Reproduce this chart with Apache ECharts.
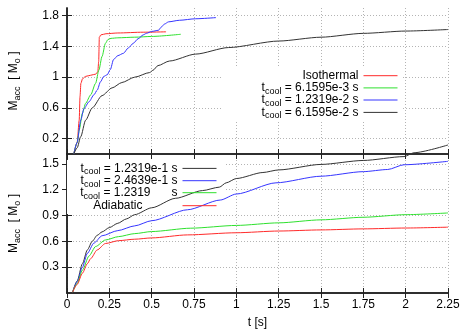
<!DOCTYPE html>
<html>
<head>
<meta charset="utf-8">
<script src="https://cdn.jsdelivr.net/npm/echarts@6/dist/echarts.min.js"></script>
<style>
  html, body { margin: 0; padding: 0; background: #fff; }
  #chart { width: 471px; height: 330px; }
</style>
</head>
<body>
<div id="chart"></div>
<script>
// ---- top panel (cooling times 6e-3 .. 6e-2) ----
const tIso = [0.04, 0.06, 0.072, 0.077, 0.082, 0.092, 0.11, 0.14, 0.17, 0.182, 0.187, 0.191, 0.2, 0.23, 0.3, 0.45, 0.585]
const mIso = [0, 0.15, 0.44, 0.75, 0.92, 0.98, 1.01, 1.025, 1.04, 1.07, 1.2, 1.52, 1.55, 1.565, 1.575, 1.585, 1.59]

const tC1 = [0.04, 0.06, 0.072, 0.091, 0.11, 0.14, 0.169, 0.188, 0.207, 0.227, 0.242, 0.26, 0.3, 0.4, 0.5, 0.672]
const mC1 = [0, 0.15, 0.31, 0.53, 0.66, 0.77, 0.92, 1.09, 1.27, 1.44, 1.49, 1.505, 1.512, 1.52, 1.53, 1.558]

const tC2 = [0.04, 0.06, 0.081, 0.1, 0.13, 0.159, 0.178, 0.198, 0.217, 0.237, 0.256, 0.275, 0.3, 0.333, 0.362, 0.391, 0.42, 0.45, 0.469, 0.5, 0.54, 0.556, 0.575, 0.6, 0.663, 0.76, 0.88]
const mC2 = [0, 0.15, 0.44, 0.59, 0.68, 0.77, 0.83, 0.94, 1.01, 1.03, 1.1, 1.23, 1.28, 1.31, 1.38, 1.44, 1.5, 1.55, 1.57, 1.595, 1.61, 1.65, 1.69, 1.72, 1.74, 1.76, 1.775]

const tC3 = [0.04, 0.06, 0.081, 0.11, 0.149, 0.207, 0.266, 0.324, 0.4, 0.488, 0.508, 0.537, 0.605, 0.76, 0.953, 1.25, 1.5, 1.75, 2.0, 2.25]
const mC3 = [0, 0.08, 0.225, 0.44, 0.6, 0.76, 0.86, 0.93, 1.0, 1.06, 1.09, 1.15, 1.21, 1.30, 1.385, 1.47, 1.52, 1.57, 1.60, 1.62]

// ---- bottom panel (cooling times 1.2e-1 .. adiabatic) ----
const tC4 = [0.033, 0.06, 0.091, 0.12, 0.149, 0.178, 0.207, 0.25, 0.3, 0.35, 0.4, 0.5, 0.64, 0.8, 0.9, 0.94, 1.0, 1.157, 1.25, 1.5, 1.75, 1.99, 2.05, 2.25]
const mC4 = [0.01, 0.14, 0.34, 0.5, 0.6, 0.67, 0.71, 0.76, 0.81, 0.86, 0.91, 0.99, 1.1, 1.19, 1.23, 1.28, 1.33, 1.40, 1.43, 1.494, 1.54, 1.585, 1.63, 1.72]

const tC5 = [0.033, 0.06, 0.091, 0.12, 0.159, 0.207, 0.3, 0.4, 0.5, 0.711, 0.905, 1.0, 1.234, 1.5, 1.75, 1.894, 1.99, 2.25]
const mC5 = [0.01, 0.13, 0.30, 0.46, 0.58, 0.665, 0.725, 0.78, 0.84, 0.967, 1.08, 1.15, 1.28, 1.357, 1.41, 1.435, 1.49, 1.53]

const tC6 = [0.033, 0.06, 0.091, 0.13, 0.169, 0.227, 0.304, 0.4, 0.5, 0.731, 1.0, 1.25, 1.5, 1.75, 2.0, 2.25]
const mC6 = [0.01, 0.11, 0.265, 0.43, 0.54, 0.616, 0.655, 0.69, 0.714, 0.753, 0.785, 0.815, 0.85, 0.88, 0.91, 0.93]

const tAd = [0.033, 0.06, 0.091, 0.12, 0.14, 0.178, 0.227, 0.304, 0.4, 0.5, 0.711, 1.0, 1.25, 1.5, 1.75, 2.0, 2.25]
const mAd = [0.01, 0.1, 0.23, 0.34, 0.40, 0.5, 0.575, 0.608, 0.625, 0.64, 0.675, 0.70, 0.72, 0.733, 0.745, 0.755, 0.765]

const yTicksTop = [0.2, 0.6, 1, 1.4, 1.8]
const yTicksBottom = [0.3, 0.6, 0.9, 1.2, 1.5]

const topNames = ['Isothermal', 'tcool = 6.1595e-3 s', 'tcool = 1.2319e-2 s', 'tcool = 6.1595e-2 s']
const bottomNames = ['tcool = 1.2319e-1 s', 'tcool = 2.4639e-1 s', 'tcool = 1.2319 s', 'Adiabatic']

const FONT = '"Liberation Sans", Arial, sans-serif'

function zip(t, m) {
  return t.map((x, i) => [x, m[i]])
}

// legend text: t with "cool" as subscript
function legendText(name) {
  if (name === 'Adiabatic') return '{ad|Adiabatic}'
  if (name === 'tcool = 1.2319 s') return '{m|t}{s|cool}{m| = 1.2319}{gs|s}'
  if (name.indexOf('tcool') === 0) return '{m|t}{s|cool}{m|' + name.slice(5) + '}'
  return '{m|' + name + '}'
}

const rich = {
  m: { fontSize: 12, lineHeight: 16, color: '#000', fontFamily: FONT },
  s: { fontSize: 9, lineHeight: 8, verticalAlign: 'bottom', color: '#000', fontFamily: FONT },
  gs: { fontSize: 12, lineHeight: 16, padding: [0, 0, 0, 21], color: '#000', fontFamily: FONT },
  ad: { fontSize: 12, lineHeight: 16, padding: [0, 35, 0, 0], color: '#000', fontFamily: FONT }
}

function oneLegend(name, right, top) {
  return {
    data: [name],
    orient: 'vertical',
    right: right,
    top: top,
    padding: 0,
    itemWidth: 34,
    itemHeight: 16,
    align: 'right',
    selectedMode: false,
    // only the line sample, no symbol in the middle
    itemStyle: { color: 'rgba(0,0,0,0)', borderWidth: 0, opacity: 0 },
    lineStyle: { width: 1 },
    formatter: legendText,
    textStyle: { fontSize: 12, color: '#000', fontFamily: FONT, rich: rich }
  }
}

const legendTops1 = [69.3, 81.5, 93.6, 106]
const legendTops2 = [162, 174.3, 186.3, 199.3]

const axisLineStyle = { color: '#222', width: 1.5 }
const gridLine = { show: true, lineStyle: { color: '#b4b4b4', width: 1, type: [1, 2] } }

function xAxisFor(gridIndex, position, showLabels, isMirror) {
  return {
    type: 'value',
    gridIndex: gridIndex,
    position: position,
    min: 0,
    max: 2.25,
    interval: 0.25,
    axisLine: { lineStyle: axisLineStyle },
    axisTick: { inside: true, length: 5, lineStyle: { color: '#222' } },
    axisLabel: { show: showLabels, margin: 6, fontSize: 12, color: '#000', fontFamily: FONT },
    splitLine: isMirror ? { show: false } : gridLine,
    name: showLabels ? 't [s]' : '',
    nameLocation: 'middle',
    nameGap: 24,
    nameTextStyle: { fontSize: 12, color: '#000', fontFamily: FONT }
  }
}

function yAxisFor(gridIndex, position, max, ticks, isMirror) {
  return {
    type: 'value',
    gridIndex: gridIndex,
    position: position,
    min: 0,
    max: max,
    axisLine: { lineStyle: axisLineStyle },
    axisTick: { inside: true, length: 5, customValues: ticks, lineStyle: { color: '#222' } },
    axisLabel: { show: !isMirror, customValues: ticks, margin: 8, fontSize: 12, color: '#000', fontFamily: FONT },
    splitLine: isMirror ? { show: false } : gridLine,
    name: isMirror ? '' : '{m|M}{s|acc}{m|  [ M}{s|o}{m| ]}',
    nameLocation: 'middle',
    nameRotate: 90,
    nameGap: 45,
    nameTextStyle: { fontSize: 12, color: '#000', fontFamily: FONT, rich: rich }
  }
}

function lineSeries(name, data, color, xi, yi, clip) {
  return {
    name: name,
    type: 'line',
    xAxisIndex: xi,
    yAxisIndex: yi,
    data: data,
    symbol: 'none',
    smooth: 0.25,
    smoothMonotone: 'x',
    clip: clip,
    lineStyle: { color: color, width: 1 },
    itemStyle: { color: color }
  }
}

const chart = echarts.init(document.getElementById('chart'))
chart.setOption({
  animation: false,
  backgroundColor: '#fff',
  textStyle: { fontFamily: FONT },
  grid: [
    { left: 61, right: 23, top: 8, height: 146 },
    { left: 61, right: 23, top: 154, height: 139 }
  ],
  xAxis: [
    xAxisFor(0, 'bottom', false, false),
    xAxisFor(0, 'top', false, true),
    xAxisFor(1, 'bottom', true, false),
    xAxisFor(1, 'top', false, true)
  ],
  yAxis: [
    yAxisFor(0, 'left', 1.9, yTicksTop, false),
    yAxisFor(0, 'right', 1.9, yTicksTop, true),
    yAxisFor(1, 'left', 1.615, yTicksBottom, false),
    yAxisFor(1, 'right', 1.615, yTicksBottom, true)
  ],
  legend: topNames.map((n, i) => oneLegend(n, 73, legendTops1[i]))
    .concat(bottomNames.map((n, i) => oneLegend(n, 254, legendTops2[i]))),
  // opaque key boxes, like the gnuplot key (above grid lines, under curves)
  graphic: [
    { type: 'rect', z: 1, shape: { x: 222, y: 66, width: 180, height: 55 }, style: { fill: '#fff' } },
    { type: 'rect', z: 1, shape: { x: 67, y: 160, width: 157, height: 54 }, style: { fill: '#fff' } }
  ],
  series: [
    lineSeries(topNames[0], zip(tIso, mIso), '#ff2a2a', 0, 0, true),
    lineSeries(topNames[1], zip(tC1, mC1), '#2ee02e', 0, 0, true),
    lineSeries(topNames[2], zip(tC2, mC2), '#3535ff', 0, 0, true),
    lineSeries(topNames[3], zip(tC3, mC3), '#333', 0, 0, true),
    lineSeries(bottomNames[0], zip(tC4, mC4), '#333', 2, 2, false),
    lineSeries(bottomNames[1], zip(tC5, mC5), '#3535ff', 2, 2, true),
    lineSeries(bottomNames[2], zip(tC6, mC6), '#2ee02e', 2, 2, true),
    lineSeries(bottomNames[3], zip(tAd, mAd), '#ff2a2a', 2, 2, true)
  ]
})
</script>
</body>
</html>
